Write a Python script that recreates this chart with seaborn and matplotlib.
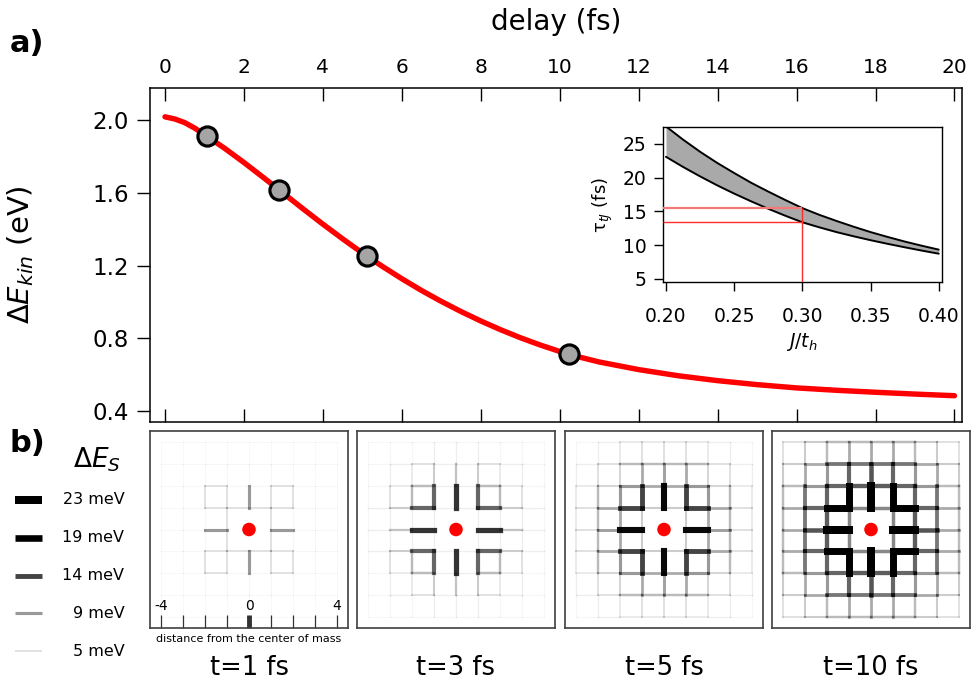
import numpy as np
import matplotlib
matplotlib.use("Agg")
from matplotlib import pyplot as plt
import seaborn as sns

# a) kinetic energy change vs delay
delay_fs = [0, 0.25, 0.5, 0.75, 1, 1.5, 2, 2.5, 3, 3.5, 4, 4.5, 5, 5.5, 6, 6.5, 7, 7.5, 8, 8.5,
            9, 9.5, 10, 10.5, 11, 12, 13, 14, 15, 16, 17, 18, 19, 20]
dekin_ev = [2.020, 2.008, 1.988, 1.958, 1.922, 1.848, 1.768, 1.684, 1.598, 1.512, 1.428, 1.347,
            1.269, 1.196, 1.127, 1.062, 1.002, 0.946, 0.894, 0.846, 0.802, 0.762, 0.726, 0.695,
            0.668, 0.626, 0.592, 0.565, 0.543, 0.525, 0.512, 0.501, 0.491, 0.482]
snap_t = [1.07, 2.9, 5.11, 10.23]
snap_e = [1.913, 1.614, 1.254, 0.714]

# inset: tau_tJ band vs J/t_h
j_ratio = [0.20, 0.2125, 0.225, 0.2375, 0.25, 0.2625, 0.275, 0.2875, 0.30, 0.3125, 0.325,
           0.3375, 0.35, 0.3625, 0.375, 0.3875, 0.40]
tau_upper = [27.6, 25.65, 23.85, 22.2, 20.7, 19.25, 17.95, 16.7, 15.5, 14.5, 13.6,
             12.75, 11.95, 11.23, 10.55, 9.93, 9.35]
tau_lower = [23.1, 21.6, 20.2, 18.88, 17.65, 16.5, 15.4, 14.37, 13.4, 12.65, 11.95,
             11.33, 10.75, 10.21, 9.7, 9.21, 8.75]
guide_j = 0.30
guide_tau = [13.4, 15.5]

# b) bond energies (meV), horizontal bonds: row = |y|, col k = bond from x=k to x=k+1
# (the other bonds follow from the square symmetry)
bonds_t1 = [[0, 9, 3.5, 2.5],
            [5, 5, 3.5, 2.5],
            [3.5, 5, 3, 2.5],
            [3, 3, 2.5, 2.5],
            [2.5, 2.5, 2.5, 2.5]]
bonds_t3 = [[0, 15, 6.5, 4],
            [4, 12, 6, 4],
            [4, 7, 4.5, 3.5],
            [4, 5, 4, 3.5],
            [3.5, 3.5, 3.5, 3]]
bonds_t5 = [[0, 17.5, 8.5, 5],
            [6, 14, 8, 5],
            [8, 9, 5.5, 4.5],
            [7, 7, 5, 4],
            [4.5, 4.5, 4, 3.5]]
bonds_t10 = [[0, 23, 13, 8],
             [10, 20, 12, 8],
             [12.5, 12, 9, 7],
             [11, 11, 8, 6],
             [7, 7, 6, 5]]
panel_tables = [bonds_t1, bonds_t3, bonds_t5, bonds_t10]
panel_titles = ["t=1 fs", "t=3 fs", "t=5 fs", "t=10 fs"]
center_site = (0, 0)
legend_mev = [23, 19, 14, 9, 5]

sns.set_style("ticks")
plt.rcParams['font.family'] = ['DejaVu Sans']
plt.rcParams['mathtext.fontset'] = 'dejavusans'
plt.rcParams['axes.unicode_minus'] = False
for key in ['text.color', 'axes.labelcolor', 'xtick.color', 'ytick.color', 'axes.edgecolor']:
    plt.rcParams[key] = 'black'

W, H = 972, 687
fig = plt.figure(figsize=(9.72, 6.87), dpi=100)


def px_box(x0, y0, x1, y1):
    return [x0 / W, 1 - y1 / H, (x1 - x0) / W, (y1 - y0) / H]


def bond_style(e):
    return dict(color='black', alpha=float(np.clip((e - 3) / 15, 0.03, 1)), lw=0.25 * e)


def draw_bonds(ax, table):
    rows = []
    for y in range(-4, 5):
        for k in range(4):
            e = table[abs(y)][k]
            if e <= 0:
                continue
            for s in (1, -1):
                rows.append((s * k, y, s * (k + 1), y, e))
                rows.append((y, s * k, y, s * (k + 1), e))
    rows.sort(key=lambda r: r[4])
    for x0, y0, x1, y1, e in rows:
        ax.plot([x0, x1], [y0, y1], solid_capstyle='projecting', **bond_style(e))


# ---- a) main panel
ax = fig.add_axes(px_box(150, 88, 962, 422))
sns.lineplot(x=delay_fs, y=dekin_ev, ax=ax, color='red', lw=3.9, zorder=2)
sns.scatterplot(x=snap_t, y=snap_e, ax=ax, s=190, color='#a5a5a5', edgecolor='black',
                linewidth=2.3, zorder=3)
ax.set_xlim(-0.38, 20.19)
ax.set_ylim(0.337, 2.179)
ax.set_xticks(np.arange(0, 21, 2))
ax.set_yticks([0.4, 0.8, 1.2, 1.6, 2.0])
ax.yaxis.set_major_formatter('{x:.1f}')
ax.tick_params(axis='x', direction='in', top=True, bottom=True, labeltop=True,
               labelbottom=False, length=9.4, width=1, labelsize=14.5, pad=8)
ax.tick_params(axis='y', direction='out', left=True, right=False, length=9.4, width=1,
               labelsize=16.5, pad=6)
ax.xaxis.set_label_position('top')
ax.set_xlabel('delay (fs)', fontsize=20, labelpad=20)
ax.set_ylabel(r'$\Delta E_{kin}$ (eV)', fontsize=21)
ax.yaxis.set_label_coords(-0.14, 0.5)
for s in ax.spines.values():
    s.set_visible(True)
    s.set_color('black')
    s.set_linewidth(1.1)

# ---- inset
inset = fig.add_axes(px_box(662.7, 127.3, 941.7, 282.3))
inset.fill_between(j_ratio, tau_lower, tau_upper, color='#a9a9a9', lw=0)
sns.lineplot(x=j_ratio, y=tau_upper, ax=inset, color='black', lw=1.4)
sns.lineplot(x=j_ratio, y=tau_lower, ax=inset, color='black', lw=1.4)
inset.set_xlim(0.1976, 0.4022)
inset.set_ylim(4.51, 27.47)
xl, yl = inset.get_xlim(), inset.get_ylim()
inset.hlines(guide_tau, xl[0], guide_j, colors=['#ff2a2a', '#f47a7a'], lw=[1.0, 1.6], zorder=4)
inset.vlines(guide_j, yl[0], max(guide_tau), colors='#ff2a2a', lw=1.0, zorder=4)
inset.set_xticks([0.20, 0.25, 0.30, 0.35, 0.40])
inset.set_yticks([5, 10, 15, 20, 25])
inset.xaxis.set_major_formatter('{x:.2f}')
inset.tick_params(axis='x', direction='out', length=6.5, width=1, labelsize=13.5, pad=11)
inset.tick_params(axis='y', direction='out', length=6.5, width=1, labelsize=13.5, pad=5)
inset.set_xlabel('$J/t_h$', fontsize=13.5, labelpad=4)
inset.set_ylabel(r'τ$_{tJ}$ (fs)', fontsize=13, labelpad=6)
for s in inset.spines.values():
    s.set_visible(True)
    s.set_color('black')
    s.set_linewidth(1.0)

# ---- b) lattice panels
lefts = [150, 357, 565, 772]
for i, (left, table, title) in enumerate(zip(lefts, panel_tables, panel_titles)):
    pax = fig.add_axes(px_box(left, 431, left + 198, 628))
    draw_bonds(pax, table)
    sns.scatterplot(x=[center_site[0]], y=[center_site[1]], ax=pax, s=95, color='red',
                    edgecolor='none', zorder=5)
    pax.set_xlim(-4.5, 4.5)
    pax.set_ylim(-4.5, 4.5)
    pax.set_yticks([])
    if i == 0:
        pax.set_xticks([-4, 0, 4])
        pax.set_xticks(range(-4, 5), minor=True)
        pax.tick_params(axis='x', which='both', direction='in', length=9.4, width=0.9,
                        color='#333333', labelsize=10, pad=-21)
        ctick = pax.xaxis.get_major_ticks()[1].tick1line
        ctick.set_markeredgewidth(3.5)
        ctick.set_color('black')
        pax.set_xlabel('distance from the center of mass', fontsize=8, labelpad=4)
    else:
        pax.set_xticks([])
    for s in pax.spines.values():
        s.set_visible(True)
        s.set_color('#404040')
        s.set_linewidth(1.2)
    pax.text(0.5, -0.203, title, transform=pax.transAxes, ha='center', va='center',
             fontsize=18.5)

# ---- legend of bond energies
lax = fig.add_axes(px_box(0, 481, 150, 670))
lax.set_xlim(0, 1)
lax.set_ylim(len(legend_mev) - 0.5, -0.5)
for i, e in enumerate(legend_mev):
    lax.plot([0.1, 0.28], [i, i], solid_capstyle='butt', **bond_style(e))
    lax.text(0.83, i, f'{e} meV', ha='right', va='center', fontsize=11.5)
lax.axis('off')

fig.text(97 / W, 1 - 460 / H, r'$\mathit{\Delta E_S}$', fontsize=19, ha='center', va='center')
fig.text(27 / W, 1 - 43 / H, 'a)', fontsize=22, fontweight='bold', ha='center', va='center')
fig.text(27 / W, 1 - 444 / H, 'b)', fontsize=22, fontweight='bold', ha='center', va='center')

fig.savefig('out.png', dpi=100)
